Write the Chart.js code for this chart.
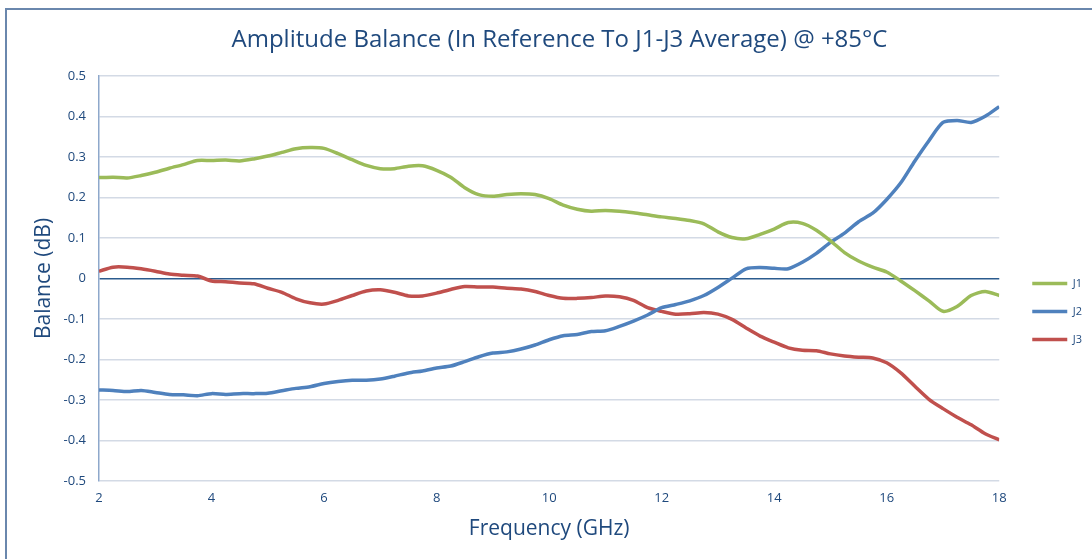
<!DOCTYPE html>
<html>
<head>
<meta charset="utf-8">
<script src="https://cdn.jsdelivr.net/npm/chart.js@4/dist/chart.umd.min.js"></script>
<style>
  html, body { margin: 0; padding: 0; background: #fff; }
  #wrap { position: relative; width: 1092px; height: 559px; overflow: hidden; }
  #frame { position: absolute; left: 5px; top: 8px; width: 1200px; height: 700px;
           border-top: 2px solid #6a87ad; border-left: 2px solid #6a87ad; }
  #chart { position: absolute; left: 0; top: 0; }
</style>
</head>
<body>
<div id="wrap">
  <div id="frame"></div>
  <canvas id="chart" width="1092" height="559"></canvas>
</div>
<script>
// Frequency (GHz) sample points
const freq = [2, 2.25, 2.5, 2.75, 3, 3.25, 3.5, 3.75, 4, 4.25, 4.5, 4.75, 5, 5.25, 5.5, 5.75,
  6, 6.25, 6.5, 6.75, 7, 7.25, 7.5, 7.75, 8, 8.25, 8.5, 8.75, 9, 9.25, 9.5, 9.75,
  10, 10.25, 10.5, 10.75, 11, 11.25, 11.5, 11.75, 12, 12.25, 12.5, 12.75, 13, 13.25, 13.5, 13.75,
  14, 14.25, 14.5, 14.75, 15, 15.25, 15.5, 15.75, 16, 16.25, 16.5, 16.75, 17, 17.25, 17.5, 17.75, 18];

// Balance (dB)
const j1 = [0.249, 0.250, 0.248, 0.254, 0.262, 0.272, 0.281, 0.291, 0.291, 0.292, 0.290, 0.295, 0.302, 0.311, 0.320, 0.323,
  0.321, 0.308, 0.293, 0.279, 0.271, 0.271, 0.277, 0.278, 0.267, 0.250, 0.224, 0.207, 0.203, 0.207, 0.209, 0.207,
  0.197, 0.181, 0.171, 0.166, 0.168, 0.166, 0.162, 0.157, 0.152, 0.148, 0.143, 0.135, 0.115, 0.101, 0.098, 0.109,
  0.122, 0.138, 0.136, 0.119, 0.093, 0.064, 0.043, 0.028, 0.016, -0.006, -0.030, -0.055, -0.081, -0.069, -0.042, -0.032, -0.042];
const j2 = [-0.275, -0.276, -0.279, -0.276, -0.281, -0.286, -0.287, -0.289, -0.284, -0.286, -0.284, -0.284, -0.283, -0.277, -0.271, -0.267,
  -0.259, -0.254, -0.251, -0.251, -0.248, -0.241, -0.233, -0.228, -0.221, -0.216, -0.205, -0.193, -0.184, -0.181, -0.174, -0.164,
  -0.151, -0.141, -0.138, -0.131, -0.129, -0.118, -0.105, -0.090, -0.072, -0.064, -0.055, -0.042, -0.022, 0.001, 0.024, 0.027,
  0.025, 0.024, 0.040, 0.062, 0.089, 0.112, 0.140, 0.161, 0.195, 0.236, 0.290, 0.340, 0.385, 0.390, 0.385, 0.400, 0.424];
const j3 = [0.018, 0.028, 0.028, 0.024, 0.018, 0.011, 0.008, 0.006, -0.006, -0.008, -0.011, -0.013, -0.024, -0.034, -0.050, -0.060,
  -0.063, -0.054, -0.042, -0.031, -0.028, -0.034, -0.043, -0.043, -0.036, -0.027, -0.020, -0.021, -0.021, -0.024, -0.026, -0.032,
  -0.042, -0.049, -0.049, -0.047, -0.043, -0.045, -0.054, -0.072, -0.081, -0.088, -0.087, -0.084, -0.088, -0.101, -0.122, -0.142,
  -0.157, -0.171, -0.177, -0.178, -0.186, -0.191, -0.194, -0.196, -0.208, -0.233, -0.266, -0.298, -0.321, -0.342, -0.361, -0.383, -0.398];

const seriesNames = ['J1', 'J2', 'J3'];
const seriesColors = ['#9bbb59', '#4f81bd', '#c0504d'];

const textColor = '#1f497d';
const font = '"Open Sans", "Noto Sans", sans-serif';

const toPoints = vals => vals.map((v, i) => ({ x: freq[i], y: v }));

new Chart(document.getElementById('chart'), {
  type: 'line',
  data: {
    datasets: [j1, j2, j3].map((vals, i) => ({
      label: seriesNames[i],
      data: toPoints(vals),
      borderColor: seriesColors[i],
      backgroundColor: seriesColors[i],
      borderWidth: 3.5,
      pointRadius: 0,
      tension: 0.25
    }))
  },
  options: {
    responsive: false,
    animation: false,
    layout: { padding: { left: 27, right: 0, top: 8, bottom: 13 } },
    plugins: {
      title: {
        display: true,
        text: 'Amplitude Balance (In Reference To J1-J3 Average) @ +85°C',
        color: textColor,
        font: { family: font, size: 24, weight: 'normal' },
        padding: { top: 18, bottom: 21 }
      },
      legend: {
        position: 'right',
        title: { display: true, text: '', font: { size: 10 }, padding: { top: 57, bottom: 0 } },
        labels: {
          usePointStyle: true,
          pointStyle: 'line',
          pointStyleWidth: 35,
          color: textColor,
          font: { family: font, size: 11 },
          padding: 17
        }
      },
      tooltip: { enabled: false }
    },
    scales: {
      x: {
        type: 'linear',
        min: 2,
        max: 18,
        ticks: { stepSize: 2, color: textColor, font: { family: font, size: 13 }, padding: 1 },
        grid: { display: false },
        border: { display: false },
        title: { display: true, text: 'Frequency (GHz)', color: textColor,
                 font: { family: font, size: 21 }, padding: { top: 10 } }
      },
      y: {
        min: -0.5,
        max: 0.5,
        afterFit: s => { s.width = 72; },
        ticks: {
          stepSize: 0.1,
          color: textColor,
          font: { family: font, size: 13 },
          padding: 13,
          callback: v => String(Math.round(v * 10) / 10)
        },
        grid: {
          drawTicks: false,
          lineWidth: 1.5,
          color: ctx => (ctx.tick && Math.abs(ctx.tick.value) < 1e-9 ? '#2b5b8e' : '#d3dae5')
        },
        border: { color: '#8ea8cb', width: 1.5 },
        title: { display: true, text: 'Balance (dB)', color: textColor,
                 font: { family: font, size: 21 }, padding: { bottom: 8 } }
      },
      // empty spacer between the plot and the legend
      gap: {
        type: 'linear',
        position: 'right',
        display: true,
        ticks: { display: false },
        grid: { display: false },
        border: { display: false },
        afterFit: s => { s.width = 16; }
      }
    }
  }
});
</script>
</body>
</html>
